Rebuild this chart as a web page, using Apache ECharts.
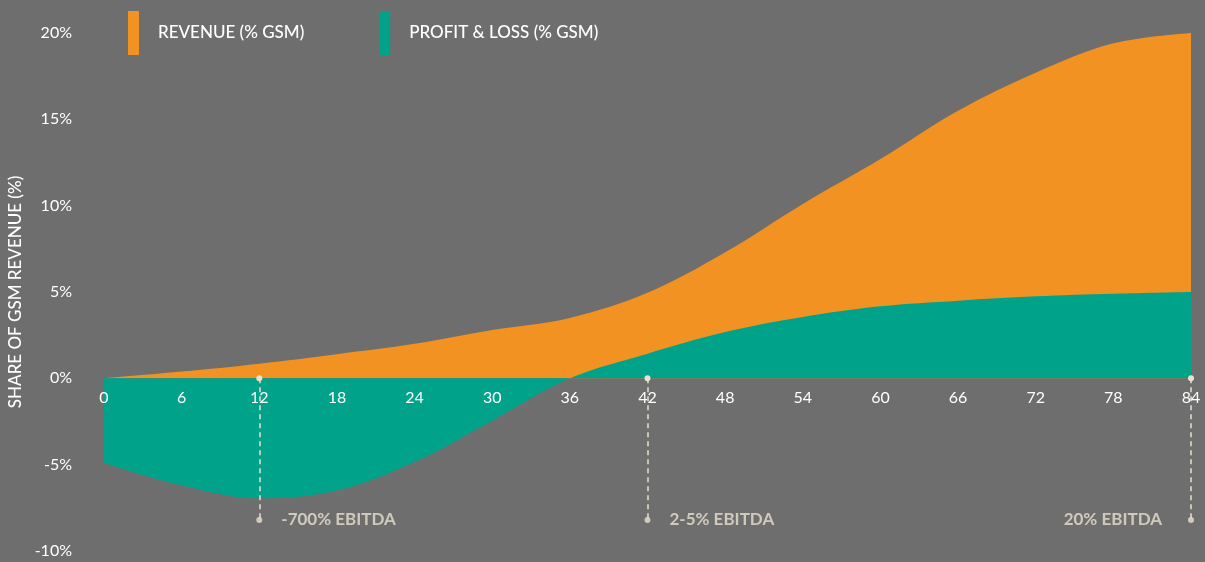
<!DOCTYPE html>
<html>
<head>
<meta charset="utf-8">
<script src="https://cdn.jsdelivr.net/npm/echarts@6/dist/echarts.min.js"></script>
<style>
  html, body { margin: 0; padding: 0; background: #6e6e6e; }
  #chart { width: 1205px; height: 562px; }
</style>
</head>
<body>
<div id="chart"></div>
<script>
// months since launch
const months = [0, 6, 12, 18, 24, 30, 36, 42, 48, 54, 60, 66, 72, 78, 84];
// revenue as % of GSM revenue
const revenue = [0, 0.39, 0.85, 1.4, 2.0, 2.8, 3.5, 4.95, 7.3, 10.1, 12.7, 15.5, 17.7, 19.4, 20];
// profit & loss as % of GSM revenue
const profitLoss = [-4.9, -6.2, -6.95, -6.5, -4.85, -2.45, 0, 1.43, 2.68, 3.55, 4.17, 4.5, 4.75, 4.9, 5.0];

// EBITDA call-outs
const calloutMonths = [12, 42, 84];
const calloutTexts = ['-700% EBITDA', '2-5% EBITDA', '20% EBITDA'];
const calloutLevel = -8.2;

const font = 'Lato, "Open Sans", sans-serif';
const cream = '#e9e1d1';

const chart = echarts.init(document.getElementById('chart'));

const pairs = (ys) => months.map((m, i) => [m, ys[i]]);

chart.setOption({
  backgroundColor: '#6e6e6e',
  animation: false,
  textStyle: { fontFamily: font },
  grid: { left: 104, right: 14, top: 33, bottom: 11, containLabel: false, outerBoundsMode: 'none' },
  legend: {
    left: 128,
    top: 11,
    padding: 0,
    icon: 'rect',
    itemWidth: 11,
    itemHeight: 44,
    itemGap: 75,
    textStyle: { color: '#ffffff', fontSize: 17, fontWeight: 500, padding: [0, 0, 0, 14] },
    data: ['REVENUE (% GSM)', 'PROFIT & LOSS (% GSM)']
  },
  xAxis: {
    type: 'value',
    min: 0,
    max: 84,
    interval: 6,
    z: 10,
    axisLine: { show: false, onZero: false },
    axisTick: { show: false },
    splitLine: { show: false },
    // labels sit just under the zero line, not at the grid bottom
    axisLabel: { color: '#ffffff', fontSize: 16, margin: -161 }
  },
  yAxis: {
    type: 'value',
    min: -10,
    max: 20,
    interval: 5,
    name: 'SHARE OF GSM REVENUE (%)',
    nameLocation: 'middle',
    nameGap: 74,
    nameTextStyle: { color: '#ffffff', fontSize: 17, fontWeight: 500 },
    axisLine: { show: false },
    axisTick: { show: false },
    splitLine: { show: false },
    axisLabel: { color: '#ffffff', fontSize: 16, margin: 32, formatter: '{value}%' }
  },
  series: [
    {
      name: 'REVENUE (% GSM)',
      type: 'line',
      smooth: 0.35,
      symbol: 'none',
      lineStyle: { width: 0 },
      itemStyle: { color: '#f29223' },
      areaStyle: { color: '#f29223', opacity: 1 },
      data: pairs(revenue),
      z: 2
    },
    {
      name: 'PROFIT & LOSS (% GSM)',
      type: 'line',
      smooth: 0.35,
      symbol: 'none',
      lineStyle: { width: 0 },
      itemStyle: { color: '#00a38a' },
      areaStyle: { color: '#00a38a', opacity: 1 },
      data: pairs(profitLoss),
      z: 3
    },
    {
      name: 'callouts',
      type: 'scatter',
      symbol: 'circle',
      symbolSize: 6,
      z: 12,
      itemStyle: { color: cream },
      data: calloutMonths.map((m, i) => ({
        value: [m, calloutLevel],
        label: {
          show: true,
          formatter: calloutTexts[i],
          position: i === calloutMonths.length - 1 ? 'left' : 'right',
          distance: i === calloutMonths.length - 1 ? 26 : 19,
          color: cream,
          fontSize: 17,
          fontWeight: 'bold'
        }
      })),
      markLine: {
        silent: true,
        symbol: ['circle', 'none'],
        symbolSize: 6,
        label: { show: false },
        lineStyle: { color: cream, type: [5, 4], width: 1.5 },
        data: calloutMonths.map(m => [{ coord: [m, 0] }, { coord: [m, calloutLevel] }])
      }
    }
  ]
});
</script>
</body>
</html>
